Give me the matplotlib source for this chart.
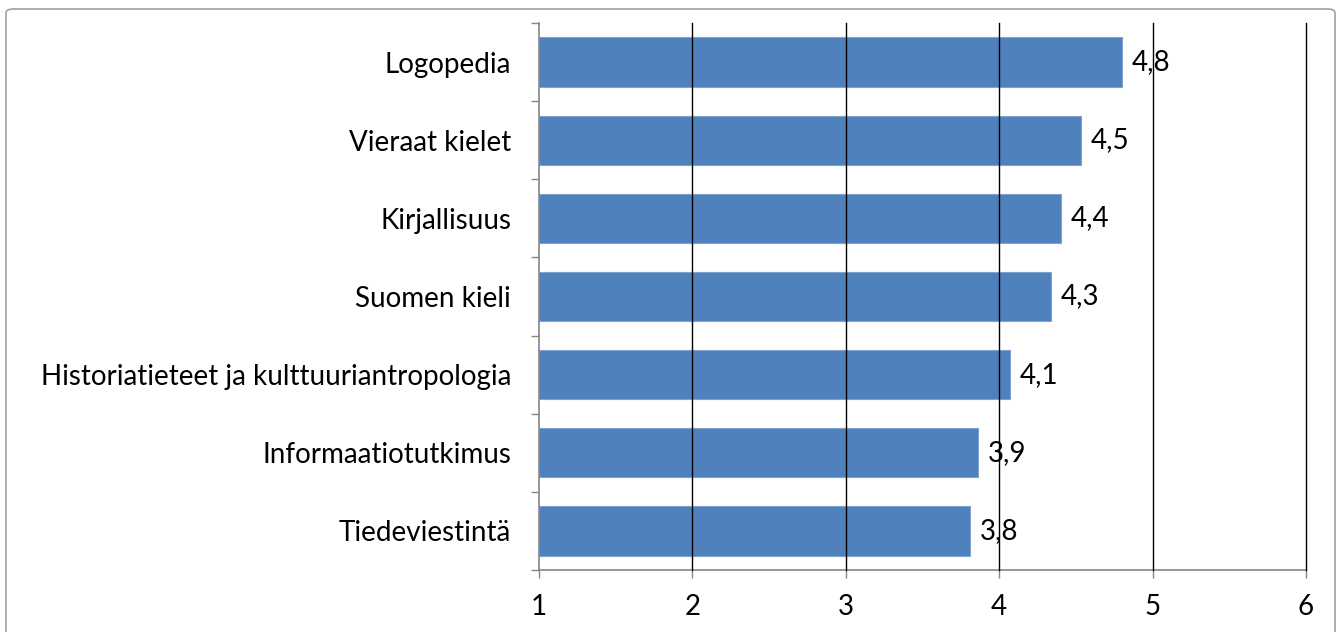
import matplotlib
matplotlib.use("Agg")
import matplotlib.pyplot as plt
from matplotlib.patches import FancyBboxPatch

categories = ["Logopedia", "Vieraat kielet", "Kirjallisuus", "Suomen kieli",
              "Historiatieteet ja kulttuuriantropologia", "Informaatiotutkimus",
              "Tiedeviestintä"]
values = [4.80, 4.53, 4.40, 4.34, 4.07, 3.86, 3.81]
labels = ["4,8", "4,5", "4,4", "4,3", "4,1", "3,9", "3,8"]
xticks = [1, 2, 3, 4, 5, 6]

plt.rcParams['font.family'] = ['Lato', 'DejaVu Sans']
FS = 20

fig = plt.figure(figsize=(13.41, 6.32), dpi=100)
border = FancyBboxPatch((6/1341, -0.05), 1329/1341, 1.05 - 9/632,
                        boxstyle="round,pad=0,rounding_size=0.006",
                        transform=fig.transFigure, facecolor='none',
                        edgecolor='#a0a0a0', linewidth=1.2, zorder=-1)
fig.patches.append(border)

ax = fig.add_axes([539/1341, 1 - 570/632, (1306 - 539)/1341, (570 - 23)/632])
ax.set_facecolor('none')
n = len(categories)
ypos = list(range(n))
ax.barh(ypos, [v - 1 for v in values], left=1, height=0.63,
        color='#4F81BD', edgecolor='#7FA3D1', linewidth=0.8, zorder=2)
ax.set_xlim(1, 6)
ax.set_ylim(n - 0.5, -0.5)
ax.set_xticks(xticks)
ax.set_xticklabels([str(t) for t in xticks], fontsize=FS)
ax.set_yticks(ypos)
ax.set_yticklabels(categories, fontsize=FS)
ax.tick_params(axis='y', length=0, pad=20)
ax.set_yticks([i - 0.5 for i in range(n + 1)], minor=True)
ax.tick_params(axis='y', which='minor', length=6, color='#868686', width=1)
ax.tick_params(axis='x', length=6, color='#868686', width=1, pad=11)
for x in xticks[1:]:
    ax.axvline(x, color='black', linewidth=1, zorder=3, clip_on=False)
for s in ['top', 'right']:
    ax.spines[s].set_visible(False)
for s in ['left', 'bottom']:
    ax.spines[s].set_color('#868686')
    ax.spines[s].set_linewidth(1.2)
for y, v, lab in zip(ypos, values, labels):
    ax.annotate(lab, (v, y), xytext=(7, 0), textcoords='offset points',
                va='center', ha='left', fontsize=FS, zorder=4)

fig.savefig('out.png', dpi=100)
